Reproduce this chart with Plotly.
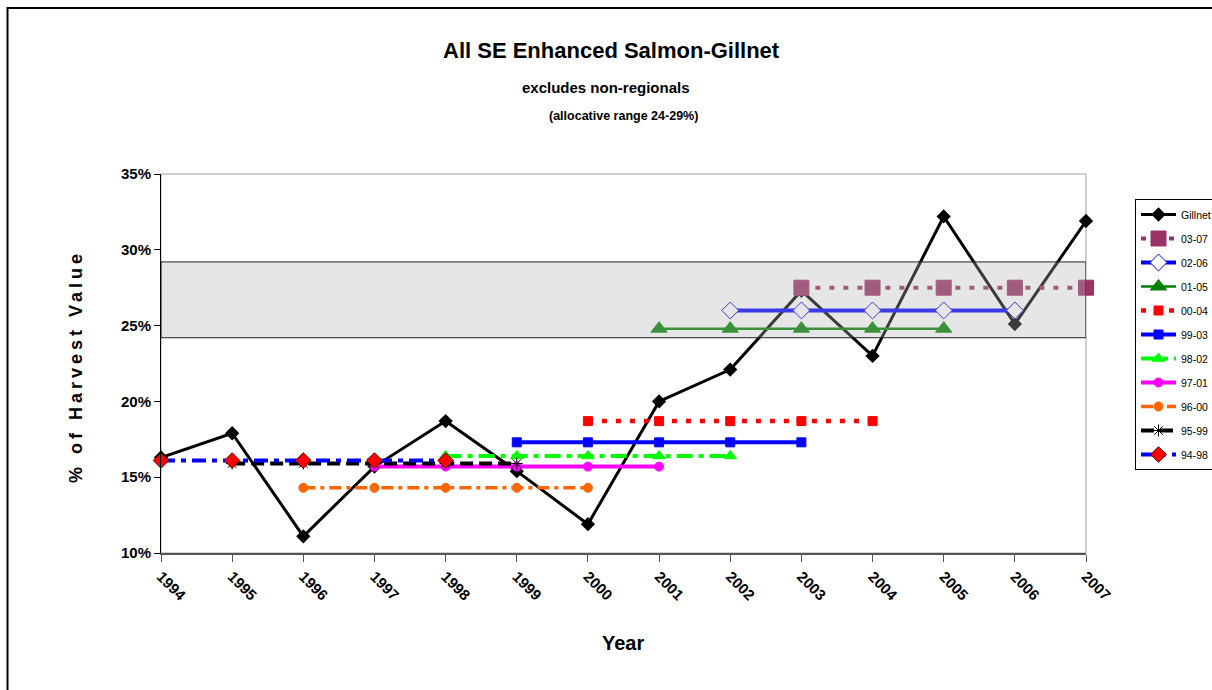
import plotly.graph_objects as go

# ---------------- data ----------------
years = [1994, 1995, 1996, 1997, 1998, 1999, 2000, 2001, 2002, 2003, 2004, 2005, 2006, 2007]
year_labels = [str(y) for y in years]
gillnet = [16.3, 17.9, 11.1, 15.7, 18.7, 15.4, 11.9, 20.0, 22.1, 27.3, 23.0, 32.2, 25.1, 31.9]

avg_names = ["03-07", "02-06", "01-05", "00-04", "99-03", "98-02", "97-01", "96-00", "95-99", "94-98"]
avg_start = [2003, 2002, 2001, 2000, 1999, 1998, 1997, 1996, 1995, 1994]
avg_value = [27.5, 26.0, 24.8, 18.7, 17.3, 16.4, 15.7, 14.3, 15.9, 16.1]

band_low, band_high = 24.2, 29.2
y_ticks = [10, 15, 20, 25, 30, 35]
y_tick_labels = ["10%", "15%", "20%", "25%", "30%", "35%"]

# ---------------- styles ----------------
styles = {
    "03-07": dict(color="#993366", width=4, dash="5px,9px", symbol="square", msize=15, mfill="#993366", mline="#993366"),
    "02-06": dict(color="#0000FF", width=4, dash="solid", symbol="diamond", msize=13, mfill="white", mline="#0000FF"),
    "01-05": dict(color="#008000", width=2.5, dash="solid", symbol="triangle-up", msize=14, mfill="#008000", mline="#008000"),
    "00-04": dict(color="#FF0000", width=4.5, dash="5px,9px", symbol="square", msize=9, mfill="#FF0000", mline="#FF0000"),
    "99-03": dict(color="#0000FF", width=4, dash="solid", symbol="square", msize=9, mfill="#0000FF", mline="#0000FF"),
    "98-02": dict(color="#00FF00", width=4, dash="16px,6px,5px,6px", symbol="triangle-up", msize=11, mfill="#00FF00", mline="#00FF00"),
    "97-01": dict(color="#FF00FF", width=4, dash="solid", symbol="circle", msize=9, mfill="#FF00FF", mline="#FF00FF"),
    "96-00": dict(color="#FF6600", width=3.5, dash="12px,5px,4px,5px", symbol="circle", msize=9, mfill="#FF6600", mline="#FF6600"),
    "95-99": dict(color="#000000", width=4, dash="13px,6px", symbol="asterisk-open", msize=10, mfill="#000000", mline="#000000"),
    "94-98": dict(color="#0000FF", width=4, dash="14px,6px,5px,6px", symbol="diamond", msize=12, mfill="#FF0000", mline="#660000"),
}

# plot area in pixels
W, H = 1212, 690
L, R, T, B = 161, 1086, 174, 553


def px(xp):
    return (xp - L) / (R - L)


def py(yp):
    return (B - yp) / (B - T)


SANS = "Liberation Sans, Arial, sans-serif"

fig = go.Figure()

fig.add_trace(go.Scatter(
    x=years, y=gillnet, name="Gillnet", mode="lines+markers", legendgroup="g0",
    line=dict(color="black", width=3),
    marker=dict(symbol="diamond", size=11, color="black"),
    cliponaxis=False,
))

for i, (nm, st, v) in enumerate(zip(avg_names, avg_start, avg_value)):
    s = styles[nm]
    xs = [y for y in years if st <= y <= st + 4]
    fig.add_trace(go.Scatter(
        x=xs, y=[v] * len(xs), name=nm, mode="lines+markers", legendgroup="g%02d" % (i + 1),
        line=dict(color=s["color"], width=s["width"], dash=s["dash"]),
        marker=dict(symbol=s["symbol"], size=s["msize"], color=s["mfill"],
                    line=dict(color=s["mline"], width=1)),
        cliponaxis=False,
    ))

shapes = [
    # plot area frame
    dict(type="rect", xref="paper", yref="paper", x0=0, x1=1, y0=0, y1=1,
         line=dict(color="#A0A0A0", width=1), fillcolor="rgba(0,0,0,0)", layer="below"),
    # allocative band, drawn over the lines
    dict(type="rect", xref="x", yref="y", x0=years[0], x1=years[-1], y0=band_low, y1=band_high,
         line=dict(color="#222222", width=1), fillcolor="rgba(180,180,180,0.33)", layer="above"),
    # chart border
    dict(type="rect", xref="paper", yref="paper", x0=px(7.5), x1=px(1230), y0=py(705), y1=py(8),
         line=dict(color="black", width=2), fillcolor="rgba(0,0,0,0)", layer="below"),
]

annotations = [
    dict(text="<b>All SE Enhanced Salmon-Gillnet</b>", x=px(611), y=py(50), xref="paper", yref="paper",
         showarrow=False, xanchor="center", yanchor="middle", font=dict(family=SANS, size=22, color="black")),
    dict(text="<b>excludes non-regionals</b>", x=px(606), y=py(87), xref="paper", yref="paper",
         showarrow=False, xanchor="center", yanchor="middle", font=dict(family=SANS, size=15, color="black")),
    dict(text="<b>(allocative range 24-29%)</b>", x=px(623), y=py(116), xref="paper", yref="paper",
         showarrow=False, xanchor="center", yanchor="middle", font=dict(family=SANS, size=12.5, color="black")),
    dict(text='<b><span style="letter-spacing:4px">% of Harvest Value</span></b>', x=px(76), y=py(367),
         xref="paper", yref="paper", showarrow=False, textangle=-90, xanchor="center", yanchor="middle",
         font=dict(family=SANS, size=18, color="black")),
    dict(text="<b>Year</b>", x=px(623), y=py(643), xref="paper", yref="paper",
         showarrow=False, xanchor="center", yanchor="middle", font=dict(family=SANS, size=20, color="black")),
]

fig.update_layout(
    width=W, height=H,
    margin=dict(l=L, r=W - R, t=T, b=H - B, pad=0, autoexpand=False),
    paper_bgcolor="white", plot_bgcolor="white",
    showlegend=True,
    legend=dict(x=px(1135), y=py(199), xanchor="left", yanchor="top",
                bordercolor="black", borderwidth=1, bgcolor="white",
                font=dict(family=SANS, size=10.5, color="black"),
                itemwidth=35, tracegroupgap=5, traceorder="grouped"),
    shapes=shapes, annotations=annotations,
    xaxis=dict(range=[years[0], years[-1]], tickmode="array", tickvals=years,
               ticktext=["<b>%s</b>" % t for t in year_labels],
               tickangle=45, ticks="outside", ticklen=7, tickcolor="#555555", tickwidth=1,
               showline=True, linecolor="#555555", linewidth=2, showgrid=False, zeroline=False,
               tickfont=dict(family=SANS, size=15, color="black")),
    yaxis=dict(range=[10, 35], tickmode="array", tickvals=y_ticks,
               ticktext=["<b>%s</b>" % t for t in y_tick_labels],
               ticks="outside", ticklen=6, tickcolor="black", tickwidth=1,
               showline=True, linecolor="black", linewidth=1, showgrid=False, zeroline=False,
               tickfont=dict(family=SANS, size=15, color="black")),
)

fig.write_html("out.html")
